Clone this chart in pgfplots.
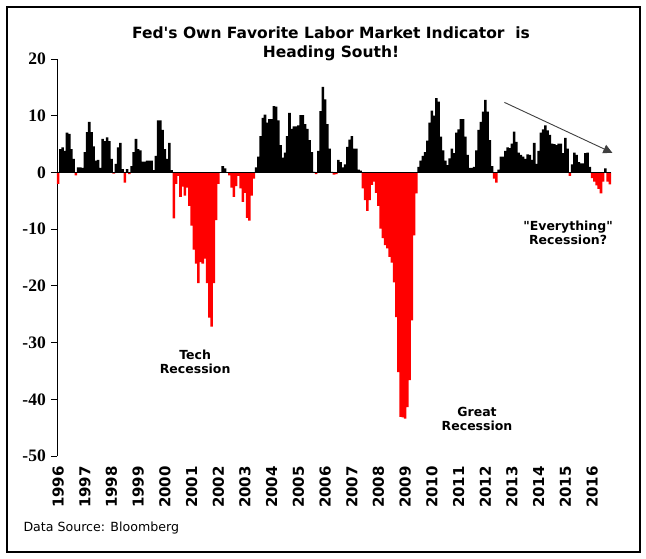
\documentclass[border=0pt]{standalone}
\usepackage{fontspec}
\setmainfont{DejaVu Sans}[Ligatures=TeXOff]
\newfontfamily\tnr{Liberation Serif}
\usepackage{pgfplots}
\usepackage{pgfplotstable}
\pgfplotsset{compat=1.18}
\usetikzlibrary{arrows.meta}

\pgfplotstableread[row sep=\\]{
m v\\
0 -2.0\\ 1 4.1\\ 2 4.4\\ 3 3.8\\ 4 7.0\\ 5 6.8\\ 6 4.1\\ 7 2.4\\ 8 -0.5\\ 9 0.9\\ 10 0.9\\ 11 0.8\\
12 3.6\\ 13 7.1\\ 14 8.9\\ 15 7.1\\ 16 4.6\\ 17 2.1\\ 18 2.2\\ 19 0.8\\ 20 5.9\\ 21 5.5\\ 22 6.2\\ 23 5.5\\
24 2.4\\ 25 -0.2\\ 26 1.5\\ 27 4.4\\ 28 5.2\\ 29 0.6\\ 30 -1.8\\ 31 0.6\\ 32 -0.3\\ 33 1.1\\ 34 3.6\\ 35 5.9\\
36 4.1\\ 37 3.9\\ 38 1.9\\ 39 1.9\\ 40 2.1\\ 41 2.1\\ 42 2.1\\ 43 0.4\\ 44 2.9\\ 45 9.2\\ 46 9.2\\ 47 7.5\\
48 4.1\\ 49 2.4\\ 50 5.2\\ 51 0.4\\ 52 -8.1\\ 53 -2.0\\ 54 -0.6\\ 55 -4.3\\ 56 -2.5\\ 57 -4.1\\ 58 -2.7\\ 59 -5.9\\
60 -9.4\\ 61 -13.6\\ 62 -16.1\\ 63 -19.5\\ 64 -15.8\\ 65 -16.1\\ 66 -15.2\\ 67 -19.5\\ 68 -25.6\\ 69 -27.2\\ 70 -19.5\\ 71 -8.4\\
72 -2.0\\ 73 0.0\\ 74 1.1\\ 75 0.7\\ 76 0.0\\ 77 -0.5\\ 78 -2.7\\ 79 -4.3\\ 80 -2.4\\ 81 -0.6\\ 82 -2.8\\ 83 -5.2\\
84 -3.6\\ 85 -8.0\\ 86 -8.5\\ 87 -4.1\\ 88 -1.1\\ 89 0.9\\ 90 2.8\\ 91 6.4\\ 92 9.6\\ 93 10.2\\ 94 8.8\\ 95 9.4\\
96 9.4\\ 97 11.7\\ 98 11.6\\ 99 9.2\\ 100 4.8\\ 101 2.6\\ 102 3.5\\ 103 6.4\\ 104 10.5\\ 105 7.7\\ 106 8.1\\ 107 8.1\\
108 8.3\\ 109 10.1\\ 110 10.1\\ 111 8.5\\ 112 7.7\\ 113 5.7\\ 114 3.6\\ 115 0.1\\ 116 -0.3\\ 117 3.8\\ 118 10.8\\ 119 15.1\\
120 12.9\\ 121 8.5\\ 122 4.2\\ 123 0.1\\ 124 -0.4\\ 125 -0.3\\ 126 2.2\\ 127 1.8\\ 128 0.9\\ 129 1.4\\ 130 4.5\\ 131 5.8\\
132 6.4\\ 133 4.2\\ 134 4.2\\ 135 0.5\\ 136 0.3\\ 137 -2.8\\ 138 -4.9\\ 139 -6.8\\ 140 -4.9\\ 141 -2.2\\ 142 -1.6\\ 143 -3.6\\
144 -5.9\\ 145 -9.9\\ 146 -11.6\\ 147 -12.8\\ 148 -13.4\\ 149 -14.9\\ 150 -15.9\\ 151 -19.4\\ 152 -25.5\\ 153 -35.2\\ 154 -43.1\\ 155 -43.2\\
156 -43.4\\ 157 -41.4\\ 158 -36.6\\ 159 -26.1\\ 160 -11.1\\ 161 -3.7\\ 162 1.0\\ 163 2.1\\ 164 2.9\\ 165 3.6\\ 166 5.6\\ 167 8.8\\
168 10.9\\ 169 10.0\\ 170 13.1\\ 171 12.5\\ 172 6.3\\ 173 3.9\\ 174 2.1\\ 175 1.3\\ 176 2.5\\ 177 4.2\\ 178 3.4\\ 179 7.0\\
180 7.6\\ 181 9.4\\ 182 9.4\\ 183 6.3\\ 184 3.1\\ 185 0.8\\ 186 0.8\\ 187 1.0\\ 188 3.9\\ 189 7.5\\ 190 8.9\\ 191 10.7\\
192 12.8\\ 193 10.7\\ 194 5.7\\ 195 1.1\\ 196 -1.1\\ 197 -1.8\\ 198 0.5\\ 199 2.8\\ 200 2.8\\ 201 3.8\\ 202 4.4\\ 203 4.3\\
204 5.1\\ 205 7.2\\ 206 5.4\\ 207 3.5\\ 208 3.1\\ 209 2.8\\ 210 2.4\\ 211 3.2\\ 212 3.1\\ 213 2.2\\ 214 5.2\\ 215 1.5\\
216 3.8\\ 217 7.0\\ 218 7.6\\ 219 8.3\\ 220 7.4\\ 221 6.6\\ 222 5.1\\ 223 5.0\\ 224 4.8\\ 225 5.1\\ 226 5.1\\ 227 3.4\\
228 6.1\\ 229 4.2\\ 230 -0.6\\ 231 1.4\\ 232 3.5\\ 233 3.1\\ 234 1.8\\ 235 1.6\\ 236 1.6\\ 237 3.4\\ 238 3.5\\ 239 1.0\\
240 -1.0\\ 241 -1.6\\ 242 -2.3\\ 243 -2.9\\ 244 -3.7\\ 245 -1.6\\ 246 0.7\\ 247 -1.6\\ 248 -2.1\\
}\lmci

\begin{document}
\begin{tikzpicture}
\path[use as bounding box] (0pt,0pt) rectangle (646pt,558pt);
\fill[white] (0pt,0pt) rectangle (646pt,558pt);
\draw[line width=1.6pt] (7pt,6pt) rectangle (640pt,551pt);
\node[font=\fontsize{15.5}{19}\selectfont\bfseries, align=center] at (331pt,514pt) {Fed's Own Favorite Labor Market Indicator\ \ is\\Heading South!};
\node[font=\fontsize{12.6}{14}\selectfont, anchor=west] at (20pt,30pt) {Data Source: Bloomberg};
\begin{axis}[
  at={(57pt,102pt)}, anchor=south west,
  scale only axis, width=554pt, height=397pt,
  xmin=-0.5, xmax=248.5, ymin=-50, ymax=20,
  clip=false,
  axis y line*=left,
  axis x line*=bottom,
  x axis line style={draw=none},
  xtick={0,12,...,240},
  xticklabels={1996,1997,1998,1999,2000,2001,2002,2003,2004,2005,2006,2007,2008,2009,2010,2011,2012,2013,2014,2015,2016},
  xticklabel style={anchor=east, yshift=-3pt, rotate=90, font=\fontsize{15}{16}\selectfont\bfseries, inner sep=1pt},
  x tick style={draw=none},
  ytick={-50,-40,...,20},
  yticklabels={-50,-40,-30,-20,-10,0,10,20},
  yticklabel style={font=\tnr\fontsize{17.5}{18}\selectfont\bfseries, inner sep=1pt, xshift=-4pt},
  y tick style={black, line width=0.8pt},
  y axis line style={line width=0.8pt},
  tick align=outside,
  major tick length=6pt,
]
\addplot[ybar, bar width=1.15, bar shift=0pt, fill=black, draw=none, restrict y to domain=0:100] table[x=m, y=v] {\lmci};
\addplot[ybar, bar width=1.15, bar shift=0pt, fill=red, draw=none, restrict y to domain=-100:0] table[x=m, y=v] {\lmci};
\addplot[black, line width=1.3pt] coordinates {(-0.5,0) (248.5,0)};
\draw[-{Triangle[length=9pt,width=9pt]}, color=black!75, line width=0.9pt] (axis cs:200.6,12.35) -- (axis cs:249.1,3.46);
\node[font=\fontsize{12.5}{14}\selectfont\bfseries, align=center] at (axis cs:61.6,-33.4) {Tech\\Recession};
\node[font=\fontsize{12.5}{14}\selectfont\bfseries, align=center] at (axis cs:188.3,-43.4) {Great\\Recession};
\node[font=\fontsize{12.5}{14}\selectfont\bfseries, align=center] at (axis cs:229.2,-10.7) {"Everything"\\Recession?};
\end{axis}
\end{tikzpicture}
\end{document}
